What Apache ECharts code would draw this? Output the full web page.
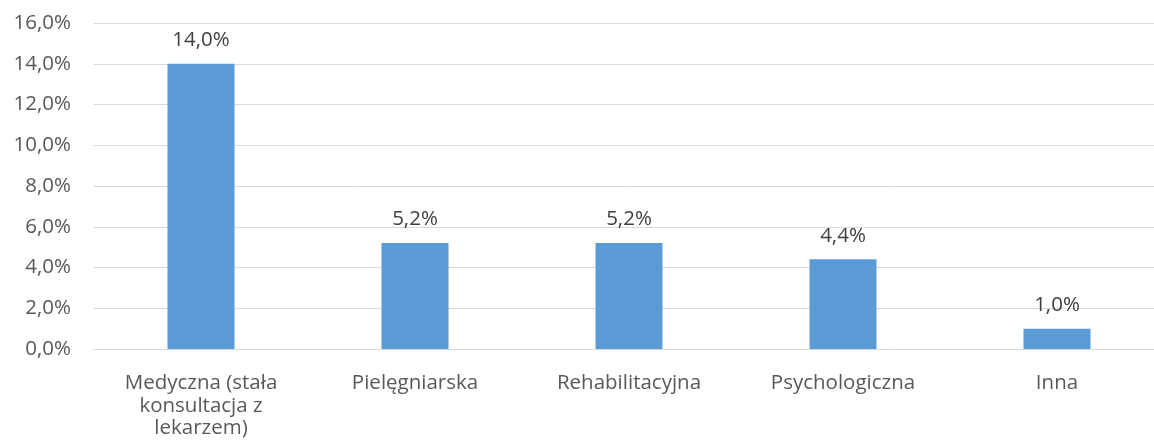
<!DOCTYPE html>
<html>
<head>
<meta charset="utf-8">
<script src="https://cdn.jsdelivr.net/npm/echarts@6/dist/echarts.min.js"></script>
<style>
  html, body { margin: 0; padding: 0; background: #fff; }
  #main { width: 1154px; height: 448px; }
</style>
</head>
<body>
<div id="main"></div>
<script>
const categories = ['Medyczna (stała\nkonsultacja z\nlekarzem)', 'Pielęgniarska', 'Rehabilitacyjna', 'Psychologiczna', 'Inna']
const values = [14.0, 5.2, 5.2, 4.4, 1.0]

const pct = v => v.toFixed(1).replace('.', ',') + '%'
const font = '"Open Sans", sans-serif'

let chart = echarts.init(document.getElementById('main'))
chart.setOption({
  animation: false,
  grid: { left: 94, top: 23, width: 1070, height: 326, outerBoundsMode: 'none' },
  xAxis: {
    type: 'category',
    data: categories,
    axisLine: { lineStyle: { color: '#d9d9d9', width: 1 } },
    axisTick: { show: false },
    axisLabel: {
      color: '#595959', fontFamily: font, fontSize: 20.5,
      margin: 23, lineHeight: 22.5, interval: 0,
    },
  },
  yAxis: {
    type: 'value',
    min: 0,
    max: 16,
    interval: 2,
    axisLine: { show: false },
    axisTick: { show: false },
    splitLine: { lineStyle: { color: '#d9d9d9', width: 1 } },
    axisLabel: {
      color: '#595959', fontFamily: font, fontSize: 20.5, margin: 23,
      formatter: v => pct(v),
    },
  },
  series: [{
    type: 'bar',
    data: values,
    barWidth: 67,
    itemStyle: { color: '#5b9bd5' },
    label: {
      show: true,
      position: 'top',
      distance: 13,
      color: '#404040',
      fontFamily: font,
      fontSize: 20.5,
      formatter: p => pct(p.value),
    },
  }],
})
</script>
</body>
</html>
